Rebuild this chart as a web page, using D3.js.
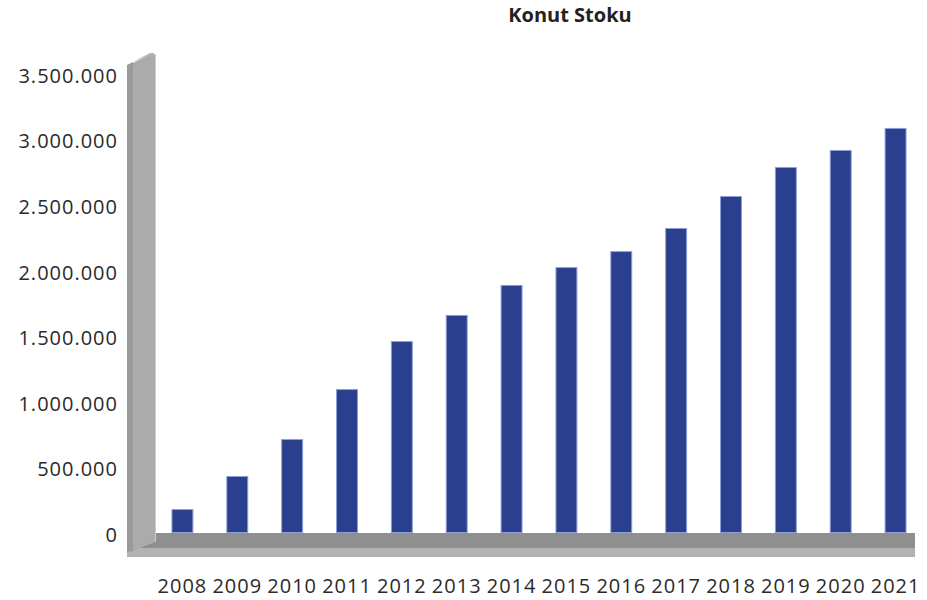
<!DOCTYPE html>
<html><head><meta charset="utf-8">
<script src="https://cdn.jsdelivr.net/npm/d3@7"></script>
<style>body{margin:0;background:#fff}svg{display:block}</style>
</head><body>
<svg id="c" width="927" height="600"></svg>
<script>
const years = ["2008","2009","2010","2011","2012","2013","2014","2015","2016","2017","2018","2019","2020","2021"];
const stock = [175000,427000,709000,1090000,1456000,1655000,1884000,2020000,2142000,2318000,2562000,2783000,2913000,3081000];
const yTicks = [0,500000,1000000,1500000,2000000,2500000,3000000,3500000];
const title = "Konut Stoku";

const svg = d3.select("#c");
const x = d3.scaleBand().domain(years).range([155,923]).paddingInner(0.6).paddingOuter(0.3);
const y = d3.scaleLinear().domain([0,3500000]).range([532,73]);
const fmt = v => d3.format(",")(v).replace(/,/g,".");

// floor
svg.append("rect").attr("x",127).attr("y",533).attr("width",788).attr("height",15).attr("fill","#8f8f8f");
svg.append("rect").attr("x",127).attr("y",548).attr("width",788).attr("height",9).attr("fill","#b2b2b2");
// wall
svg.append("polygon").attr("points","127,65 133,62 133,551 127,552").attr("fill","#9a9a9a");
svg.append("polygon").attr("points","133,63 153,53 155,55 155,542 140,548 133,551").attr("fill","#ababab");
svg.append("polygon").attr("points","127,65 133,62 155,53 150,53").attr("fill","#b8b8b8");
svg.append("line").attr("x1",155.5).attr("x2",155.5).attr("y1",54).attr("y2",542).attr("stroke","#d0d0d0").attr("stroke-width",1);

// bars
svg.append("g").selectAll("rect").data(years).join("rect")
  .attr("x",d=>x(d)+0.5)
  .attr("y",(d,i)=>y(stock[i])+0.5)
  .attr("width",x.bandwidth()-1)
  .attr("height",(d,i)=>y(0)-y(stock[i]))
  .attr("fill","#2a3f8e")
  .attr("stroke","#8e9fd6").attr("stroke-width",1);

// y axis
const yAxis = d3.axisLeft(y).tickValues(yTicks).tickFormat(fmt).tickSize(0).tickPadding(0);
const ga = svg.append("g").attr("transform","translate(118,3)").call(yAxis);
ga.select(".domain").remove();
ga.selectAll("text").attr("font-family","'Open Sans'").attr("font-size","20px")
  .attr("letter-spacing","1px").attr("fill","#2a2a2a");

// x axis
const xAxis = d3.axisBottom(x).tickSize(0).tickPadding(0);
const gx = svg.append("g").attr("transform","translate(0,579)").call(xAxis);
gx.select(".domain").remove();
gx.selectAll("text").attr("font-family","'Open Sans'").attr("font-size","20px")
  .attr("letter-spacing","1px").attr("fill","#2a2a2a");

svg.append("text").attr("x",570).attr("y",22).attr("text-anchor","middle")
  .attr("font-family","'Open Sans'").attr("font-weight","bold").attr("font-size","20px")
  .attr("fill","#222").text(title);
</script>
</body></html>
